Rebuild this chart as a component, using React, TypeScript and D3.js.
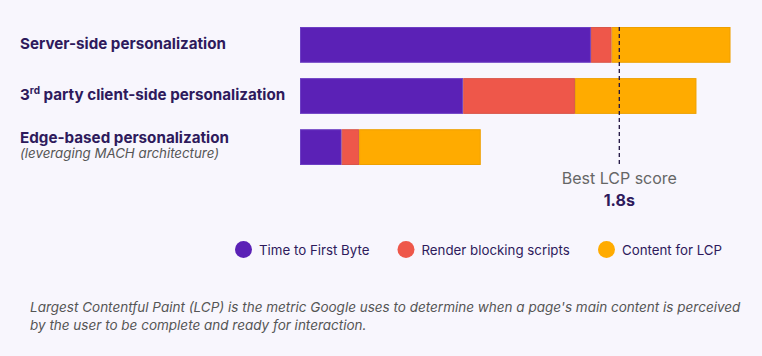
import React from "react";
import * as d3 from "d3";

const categories = ["Server-side personalization", "3rd party client-side personalization", "Edge-based personalization"];
const subLabels = ["", "", "(leveraging MACH architecture)"];
const seriesNames = ["Time to First Byte", "Render blocking scripts", "Content for LCP"];
const ttfb = [1.64, 0.92, 0.235];
const renderBlocking = [0.117, 0.63, 0.098];
const contentLcp = [0.67, 0.685, 0.686];
const bestLcp = 1.8;
const bestLabel = "Best LCP score";
const bestValue = "1.8s";
const footnote = [
  "Largest Contentful Paint (LCP) is the metric Google uses to determine when a page's main content is perceived",
  "by the user to be complete and ready for interaction.",
];

const colors = ["#5B21B6", "#EE574A", "#FFAB00"];
const strokes = ["#6d3fc4", "#d9564a", "#eea000"];
const textDark = "#2E1A5C";

export default function App() {
  const W = 762, H = 356;
  const x = d3.scaleLinear().domain([0, bestLcp]).range([300, 619.3]);
  const y = d3.scaleBand<number>().domain([0, 1, 2]).range([27, 165]).paddingInner(0.3).paddingOuter(0);
  const stackData = categories.map((_, i) => ({ i, s0: ttfb[i], s1: renderBlocking[i], s2: contentLcp[i] }));
  const stacked = d3.stack<any>().keys(["s0", "s1", "s2"])(stackData);
  const font = "Inter, 'Noto Sans', sans-serif";
  const labelY = [49, 100, 143];
  const legendX = [243.5, 406, 606.5];

  return (
    <div style={{ position: "fixed", left: 0, top: 0 }}>
      <svg width={W} height={H} style={{ display: "block" }}>
        <rect width={W} height={H} fill="#F8F6FD" />
        {categories.map((c, i) => (
          <g key={c}>
            {i === 1 ? (
              <text x={20} y={labelY[i]} fontFamily={font} fontWeight={700} fontSize={15.2} fill={textDark}>
                3<tspan fontSize={10} dy={-6}>rd</tspan>
                <tspan dy={6}> party client-side personalization</tspan>
              </text>
            ) : (
              <text x={20} y={labelY[i]} fontFamily={font} fontWeight={700} fontSize={15.2} fill={textDark}>{c}</text>
            )}
            {subLabels[i] && (
              <text x={20} y={158} fontFamily={font} fontStyle="italic" fontSize={13.3} fill="#555">{subLabels[i]}</text>
            )}
          </g>
        ))}
        {stacked.map((layer, k) => (
          <g key={k}>
            {layer.map((d, i) => (
              <rect key={i} x={x(d[0]) + 0.5} y={y(i)! + 0.5} width={x(d[1]) - x(d[0]) - 1} height={y.bandwidth() - 1}
                fill={colors[k]} stroke={strokes[k]} strokeWidth={1} />
            ))}
          </g>
        ))}
        <line x1={x(bestLcp)} x2={x(bestLcp)} y1={27} y2={165} stroke="#1f1240" strokeWidth={1.3} strokeDasharray="4,3" />
        <text x={x(bestLcp)} y={184} textAnchor="middle" fontFamily={font} fontSize={16} fill="#666">{bestLabel}</text>
        <text x={x(bestLcp)} y={205.5} textAnchor="middle" fontFamily={font} fontWeight={700} fontSize={16} fill={textDark}>{bestValue}</text>
        {seriesNames.map((n, k) => (
          <g key={n}>
            <circle cx={legendX[k]} cy={249.5} r={8.5} fill={colors[k]} />
            <text x={legendX[k] + 15.5} y={254.5} fontFamily={font} fontSize={13.3} fill={textDark}>{n}</text>
          </g>
        ))}
        {footnote.map((l, i) => (
          <text key={i} x={30} y={311.7 + i * 18.3} fontFamily={font} fontStyle="italic" fontSize={13.5} fill="#555">{l}</text>
        ))}
      </svg>
    </div>
  );
}
